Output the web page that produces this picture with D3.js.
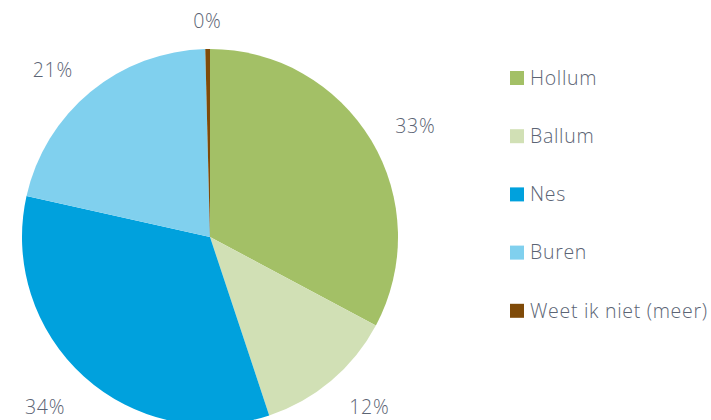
<!DOCTYPE html>
<html>
<head>
<meta charset="utf-8">
<script src="https://cdn.jsdelivr.net/npm/d3@7"></script>
<style>
  body { margin: 0; background: #fff; overflow: hidden; }
  text { font-family: "Open Sans", sans-serif; font-weight: 300; fill: #5b6474; letter-spacing: 0.7px; }
</style>
</head>
<body>
<svg width="711" height="420"></svg>
<script>
// data
var categories = ["Hollum", "Ballum", "Nes", "Buren", "Weet ik niet (meer)"];
var values = [32.8, 12.1, 33.6, 21.1, 0.4];
var labels = ["33%", "12%", "34%", "21%", "0%"];
var colors = ["#a3c066", "#d1e0b5", "#00a1dd", "#80d0ee", "#7f4a08"];

var svg = d3.select("svg");
var cx = 210, cy = 237, radius = 188;

var g = svg.append("g").attr("transform", "translate(" + cx + "," + cy + ")");

var pie = d3.pie().sort(null).value(function(d) { return d; });
var arcs = pie(values);
var arc = d3.arc().innerRadius(0).outerRadius(radius);
var labelArc = d3.arc().innerRadius(216).outerRadius(216);

g.selectAll("path")
    .data(arcs)
    .enter()
    .append("path")
    .attr("d", arc)
    .attr("fill", function(d, i) { return colors[i]; });

g.selectAll(".lbl")
    .data(arcs)
    .enter()
    .append("text")
    .attr("class", "lbl")
    .attr("transform", function(d) {
        var c = labelArc.centroid(d);
        if (c[1] > 100) c[1] = 170; // bottom labels sit on one line inside the frame
        return "translate(" + c + ")";
    })
    .attr("dy", "0.35em")
    .attr("text-anchor", function(d) {
        var a = (d.startAngle + d.endAngle) / 2;
        if (Math.abs(Math.sin(a)) < 0.1) return "middle";
        return Math.sin(a) > 0 ? "start" : "end";
    })
    .style("font-size", "19.5px")
    .text(function(d, i) { return labels[i]; });

// legend
var legend = svg.append("g").attr("transform", "translate(510,78)");
var rows = legend.selectAll("g")
    .data(categories)
    .enter()
    .append("g")
    .attr("transform", function(d, i) { return "translate(0," + (i * 58.2) + ")"; });

rows.append("rect")
    .attr("x", 0).attr("y", -7)
    .attr("width", 14).attr("height", 14)
    .attr("fill", function(d, i) { return colors[i]; });

rows.append("text")
    .attr("x", 20)
    .attr("dy", "0.35em")
    .style("font-size", "19.5px")
    .text(function(d) { return d; });
</script>
</body>
</html>
